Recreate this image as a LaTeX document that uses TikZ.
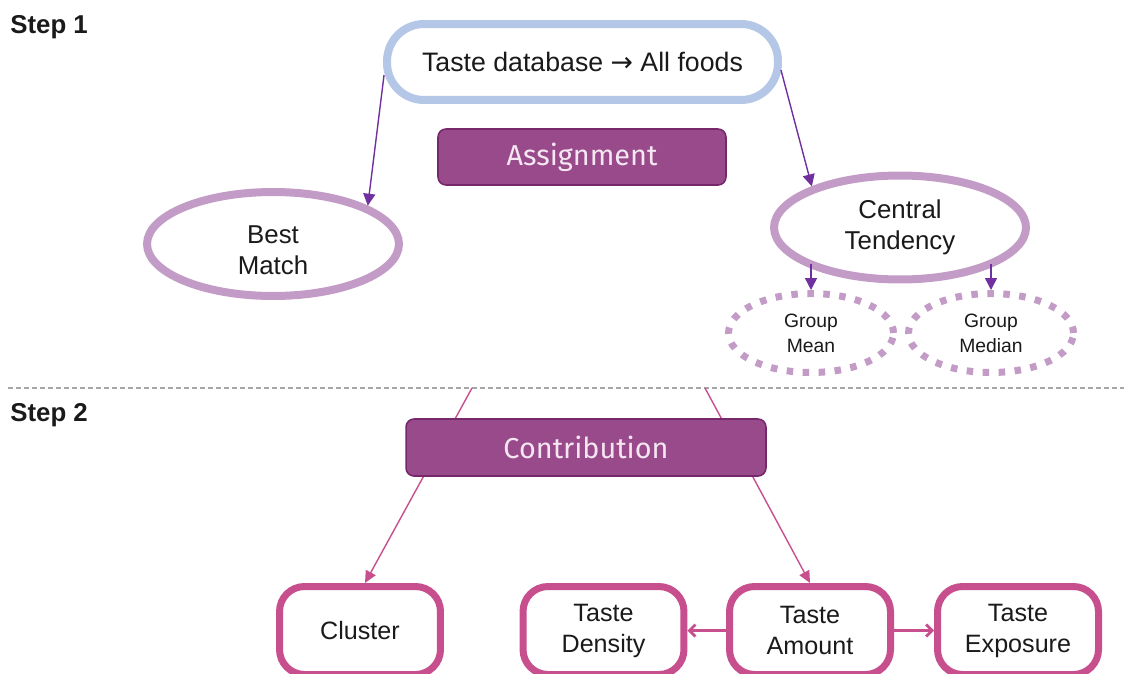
\documentclass[tikz,border=0pt]{standalone}
\usepackage{fontspec}
\setmainfont{Liberation Sans}
\newfontfamily\phasefont{Fira Sans}
\newfontfamily\symfont{DejaVu Sans}
\usetikzlibrary{arrows.meta,shapes.geometric}

\definecolor{paleblue}{HTML}{B4C7E7}
\definecolor{lilac}{HTML}{C39BC7}
\definecolor{violet}{HTML}{7030A0}
\definecolor{plum}{HTML}{984A8B}
\definecolor{plumdark}{HTML}{76286B}
\definecolor{plumtext}{HTML}{F5E6F2}
\definecolor{rose}{HTML}{C84F8D}
\definecolor{sepgrey}{HTML}{A6A6A6}
\definecolor{ink}{HTML}{1A1A1A}

% two centred lines, lowered a little inside their shape
\newcommand{\lowpair}[3]{\raisebox{#1}[0pt][0pt]{\begin{tabular}{@{}c@{}}#2\\#3\end{tabular}}}

\begin{document}
\begin{tikzpicture}[x=0.02cm,y=-0.02cm,
  steplabel/.style={anchor=west, inner sep=0, text=ink,
    font=\bfseries\fontsize{14.7}{17}\selectfont},
  sourcebox/.style={draw=paleblue, line width=0.16cm, rounded corners=0.74cm,
    fill=white, minimum width=7.82cm, minimum height=1.52cm, inner sep=0,
    text=ink, font=\fontsize{15.2}{18}\selectfont},
  phasebox/.style={draw=plumdark, line width=0.9pt, fill=plum,
    rounded corners=0.16cm, inner sep=0, text=plumtext,
    font=\phasefont\fontsize{16.4}{19}\selectfont},
  method/.style={ellipse, draw=lilac, line width=0.16cm, fill=white,
    minimum width=5.04cm, minimum height=2.08cm, inner sep=0, align=center,
    text=ink, font=\fontsize{14.7}{17.6}\selectfont},
  variant/.style={ellipse, draw=lilac, line width=0.14cm,
    dash pattern=on 0.13cm off 0.19cm, fill=white,
    minimum width=3.3cm, minimum height=1.58cm, inner sep=0, align=center,
    text=ink, font=\fontsize{11}{14.2}\selectfont},
  measure/.style={draw=rose, line width=0.14cm, rounded corners=0.5cm,
    fill=white, minimum width=3.22cm, minimum height=1.76cm, inner sep=0,
    align=center, text=ink, font=\fontsize{14.3}{17.6}\selectfont},
  link/.style={draw=violet, line width=0.8pt,
    -{Triangle[length=0.24cm,width=0.24cm]}},
  feed/.style={draw=rose, line width=0.8pt,
    -{Triangle[length=0.24cm,width=0.22cm]}},
  pair/.style={draw=rose, line width=1.6pt,
    -{Straight Barb[length=0.12cm,width=0.24cm]}},
  separator/.style={draw=sepgrey, line width=0.7pt,
    dash pattern=on 0.1cm off 0.06cm}
]
\useasboundingbox (0,0) rectangle (1124,673);
\clip (0,0) rectangle (1124,673);

% step headings and the dashed divider
\node[steplabel] (s1) at (10,27) {Step 1};
\node[steplabel] (s2) at (10,415) {Step 2};
\coordinate (sepL) at (8,388);
\coordinate (sepR) at (1124,388);
\draw[separator] (sepL) -- (sepR);

% step 1: source and assignment methods
\node[sourcebox] (src) at (582.5,62) {Taste database {\symfont →} All foods};
\node[phasebox, minimum width=5.76cm, minimum height=1.12cm] (asg) at (582,157) {Assignment};
\node[method] (best) at (273,244) {\lowpair{-0.3cm}{Best}{Match}};
\node[method] (ct) at (900,227.5) {Central\\Tendency};
\node[variant] (gm) at (811,333) {Group\\Mean};
\node[variant] (gmd) at (991,333) {Group\\Median};

\draw[link] ([shift={(1,13)}]src.west) -- (best.22);
\draw[link] ([shift={(-1,8)}]src.east) -- (ct.155);
\draw[link] (gm.north |- ct.200) -- (gm.north);
\draw[link] (gmd.north |- ct.340) -- (gmd.north);

% step 2: contribution measures
\node[measure] (cl) at (360,630.5) {Cluster};
\node[measure] (td) at (603.5,630.5) {Taste\\Density};
\node[measure] (ta) at (810,630.5) {Taste\\Amount};
\node[measure] (te) at (1018,630.5) {Taste\\Exposure};

\coordinate (c1) at (472,388);
\coordinate (c2) at (705,388);
\draw[feed] (c1) -- ([shift={(5,0)}]cl.north);
\draw[feed] (c2) -- (ta.north);

\node[phasebox, minimum width=7.2cm, minimum height=1.14cm] (con) at (586,447.5) {Contribution};

\draw[pair] (ta.west) -- (td.east);
\draw[pair] (ta.east) -- (te.west);
\end{tikzpicture}
\end{document}
